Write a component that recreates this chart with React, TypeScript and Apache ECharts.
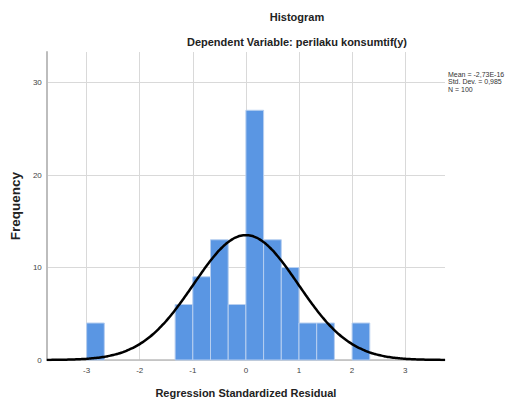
import React, { useEffect, useRef } from "react";
import * as echarts from "echarts";

// Histogram bins (start, end) in standardized residual units, and their frequencies
const binStarts = [-3, -1.3333, -1, -0.6667, -0.3333, 0, 0.3333, 0.6667, 1, 1.3333, 2];
const binEnds = [-2.6667, -1, -0.6667, -0.3333, 0, 0.3333, 0.6667, 1, 1.3333, 1.6667, 2.3333];
const counts = [4, 6, 9, 13, 6, 27, 13, 10, 4, 4, 4];

// Tick labels
const xTicks = [-3, -2, -1, 0, 1, 2, 3];
const yTicks = [0, 10, 20, 30];

// Summary statistics shown on the chart
const statMean = -2.73e-16;
const statSd = 0.985;
const statN = 100;
const binWidth = 1 / 3;
const legendLines = ["Mean = -2,73E-16", "Std. Dev. = 0,985", "N = 100"];

const FONT = "'Liberation Sans', Arial, sans-serif";

export default function App() {
  const ref = useRef<HTMLDivElement>(null);

  useEffect(() => {
    if (!ref.current) return;
    const chart = echarts.init(ref.current, undefined, { renderer: "svg" });

    const histData = binStarts.map((s, i) => [s, binEnds[i], counts[i]]);

    // Fitted normal curve from the stated mean / sd / N
    const curve: number[][] = [];
    const k = (statN * binWidth) / (statSd * Math.sqrt(2 * Math.PI));
    for (let i = 0; i <= 150; i++) {
      const x = -3.75 + i * 0.05;
      const z = (x - statMean) / statSd;
      curve.push([x, k * Math.exp(-0.5 * z * z)]);
    }

    chart.setOption({
      animation: false,
      backgroundColor: "#ffffff",
      textStyle: { fontFamily: FONT },
      grid: { left: 46, right: 62, top: 52, bottom: 45, containLabel: false },
      xAxis: {
        type: "value",
        min: -3.75,
        max: 3.75,
        name: "Regression Standardized Residual",
        nameLocation: "middle",
        nameGap: 27,
        nameTextStyle: { fontFamily: FONT, fontSize: 11, fontWeight: "bold", color: "#222" },
        axisLine: { show: true, onZero: false, lineStyle: { color: "#bdbdbd", width: 1.5 } },
        axisTick: { show: false, customValues: xTicks },
        axisLabel: {
          customValues: xTicks,
          fontFamily: FONT,
          fontSize: 8,
          color: "#444",
          margin: 6,
        },
        splitLine: { show: true, lineStyle: { color: "#d9d9d9", width: 1 } },
      },
      yAxis: {
        type: "value",
        min: 0,
        max: 33.3,
        name: "Frequency",
        nameLocation: "middle",
        nameRotate: 90,
        nameGap: 21,
        nameTextStyle: { fontFamily: FONT, fontSize: 13.5, fontWeight: "bold", color: "#222" },
        axisLine: { show: true, onZero: false, lineStyle: { color: "#bdbdbd", width: 2 } },
        axisTick: { show: false, customValues: yTicks },
        axisLabel: {
          customValues: yTicks,
          fontFamily: FONT,
          fontSize: 8,
          color: "#444",
          margin: 5,
        },
        splitLine: { show: true, lineStyle: { color: "#d9d9d9", width: 1 } },
      },
      graphic: [
        {
          type: "text",
          x: 297,
          y: 17,
          style: {
            text: "Histogram",
            font: `bold 11px ${FONT}`,
            fill: "#222",
            align: "center",
            verticalAlign: "middle",
          },
        },
        {
          type: "text",
          x: 297,
          y: 42,
          style: {
            text: "Dependent Variable: perilaku konsumtif(y)",
            font: `bold 11px ${FONT}`,
            fill: "#222",
            align: "center",
            verticalAlign: "middle",
          },
        },
        ...legendLines.map((t, i) => ({
          type: "text",
          x: 448,
          y: 74 + i * 7.5,
          style: {
            text: t,
            font: `7px ${FONT}`,
            fill: "#333",
            align: "left",
            verticalAlign: "middle",
          },
        })),
      ],
      series: [
        {
          type: "custom",
          data: histData,
          encode: { x: [0, 1], y: 2 },
          renderItem: (params: any, api: any) => {
            const p0 = api.coord([api.value(0), api.value(2)]);
            const p1 = api.coord([api.value(1), 0]);
            return {
              type: "rect",
              shape: { x: p0[0], y: p0[1], width: p1[0] - p0[0], height: p1[1] - p0[1] },
              style: { fill: "#5a96e3", stroke: "#b7cff0", lineWidth: 1 },
            };
          },
          z: 2,
        },
        {
          type: "line",
          data: curve,
          showSymbol: false,
          smooth: true,
          lineStyle: { color: "#000000", width: 2.5 },
          z: 3,
        },
      ],
    });

    return () => chart.dispose();
  }, []);

  return (
    <div
      ref={ref}
      style={{ position: "fixed", left: 0, top: 0, width: 507, height: 405, background: "#fff" }}
    />
  );
}
